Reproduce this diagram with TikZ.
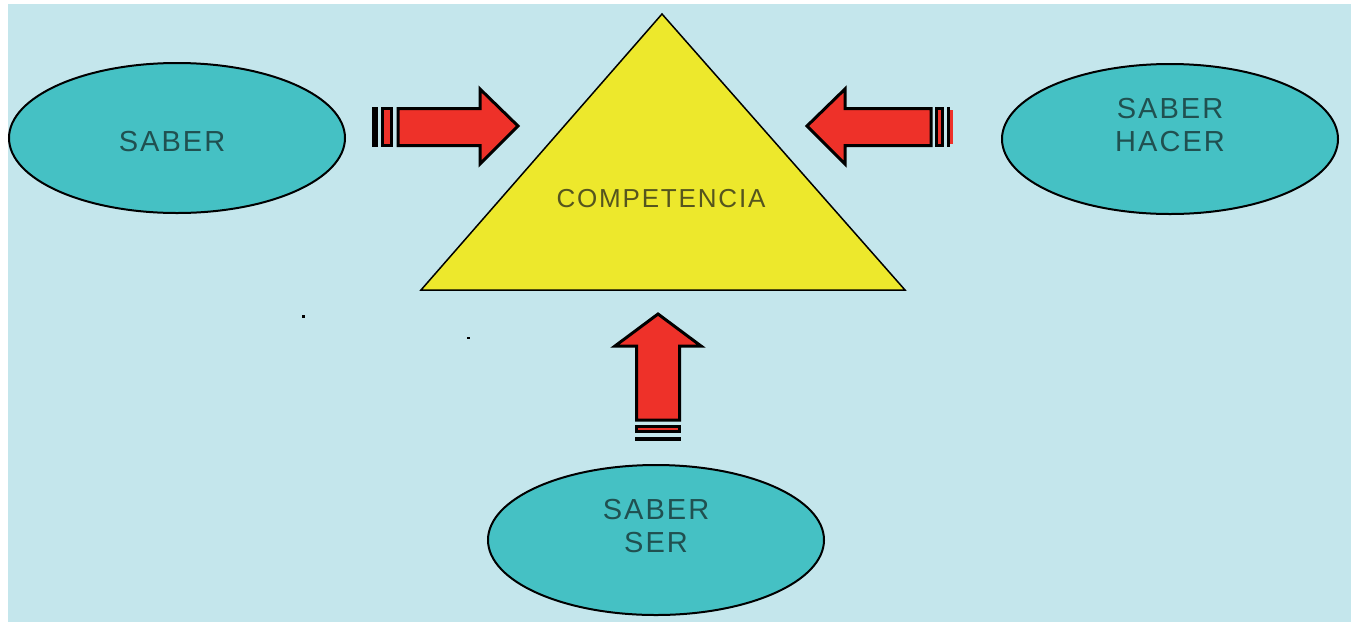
\documentclass[tikz,border=0pt]{standalone}
\usepackage{fontspec}
\setmainfont{Liberation Sans}
\newfontfamily\labelfont[LetterSpace=7]{Liberation Sans}
\usetikzlibrary{shapes.geometric}
\definecolor{bgblue}{RGB}{196,230,236}
\definecolor{ovalteal}{RGB}{69,193,196}
\definecolor{triyellow}{RGB}{237,232,44}
\definecolor{arrowred}{RGB}{238,49,41}
\definecolor{ovalink}{RGB}{32,80,80}
\definecolor{triink}{RGB}{85,85,30}

\begin{document}
\begin{tikzpicture}[x=1pt,y=-1pt,
  oval/.style={ellipse,draw=black,line width=2pt,fill=ovalteal,
    minimum width=336pt,minimum height=150pt,inner sep=0pt},
  ovaltext/.style={align=center,text=ovalink,inner sep=0pt,
    font=\labelfont\fontsize{29}{33}\selectfont},
  blockarrow/.style={fill=arrowred,draw=black,line width=3pt,line join=miter},
  blockbox/.style={fill=arrowred,draw=black,line width=3pt}]
  \useasboundingbox (0,0) rectangle (1351,622);
  \fill[bgblue] (8,4) rectangle (1351,622);

  \coordinate (apex) at (662,14);
  \coordinate (baseR) at (905,290);
  \coordinate (baseL) at (421,290);
  \draw[fill=triyellow,line width=1.5pt] (apex) -- (baseR) -- (baseL) -- cycle;
  \node[text=triink,inner sep=0pt,font=\labelfont\fontsize{26}{30}\selectfont]
    (comp) at (661,199) {COMPETENCIA};

  \node[oval] (saber) at (177,138) {};
  \node[oval] (hacer) at (1170,139) {};
  \node[oval] (ser) at (656,540) {};
  \node[ovaltext] (saberT) at ([xshift=-5pt,yshift=-4pt]saber.center) {SABER};
  \node[ovaltext] (hacerT) at ([yshift=14pt]hacer.center) {SABER\\HACER};
  \node[ovaltext] (serT) at ([yshift=14pt]ser.center) {SABER\\SER};

  \draw[blockarrow] (398,108.5) -- (480,108.5) -- (480,89) -- (518,126)
    -- (480,164) -- (480,145.5) -- (398,145.5) -- cycle;
  \draw[blockbox] (382.5,108.5) rectangle (391.5,145.5);
  \fill (372,107) rectangle (378,147);

  \draw[blockarrow] (931,108.5) -- (845,108.5) -- (845,89) -- (807,126)
    -- (845,164) -- (845,145.5) -- (931,145.5) -- cycle;
  \draw[blockbox] (936.5,108.5) rectangle (942.5,145.5);
  \fill (947,107) rectangle (950,147);
  \fill[arrowred] (950,110) rectangle (953,144);

  \draw[blockarrow] (636.5,420) -- (636.5,346) -- (615,346) -- (658,314)
    -- (701,346) -- (679.5,346) -- (679.5,420) -- cycle;
  \draw[blockbox] (636.5,426.5) rectangle (679.5,431.5);
  \fill (635,437) rectangle (681,441);

  \fill (302,315) rectangle (305,318);
  \fill (467,337) rectangle (470,339);
\end{tikzpicture}
\end{document}
